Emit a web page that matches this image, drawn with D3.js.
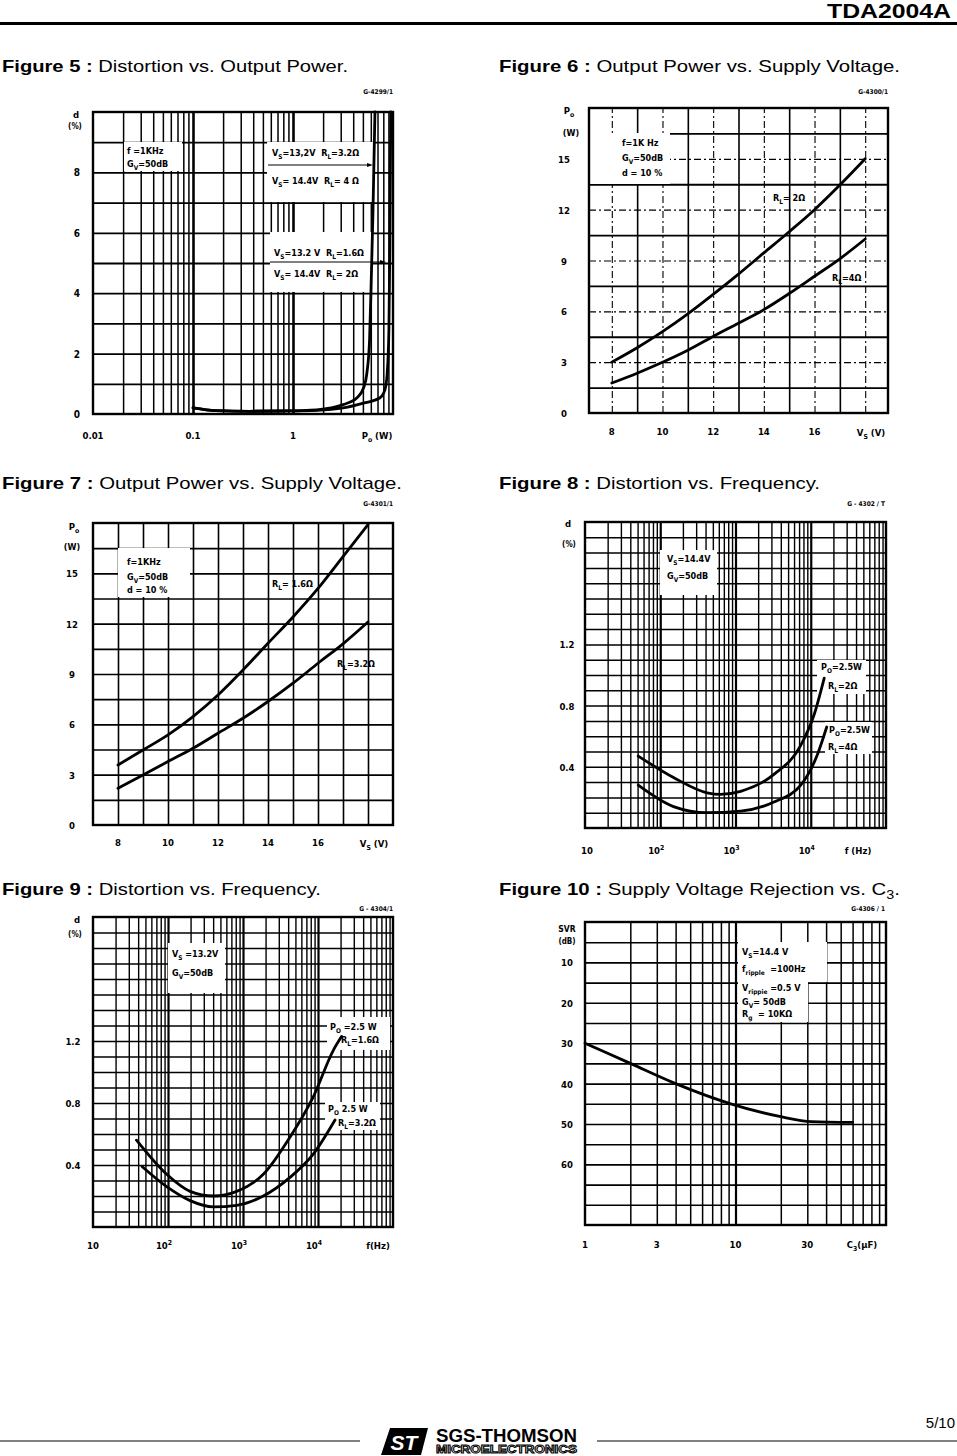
<!DOCTYPE html>
<html><head><meta charset="utf-8">
<script src="https://cdn.jsdelivr.net/npm/d3@7"></script>
<style>body{margin:0;background:#fff}svg{display:block}</style>
</head><body>
<svg id="page" width="957" height="1456"></svg>
<script>
// ================= DATA =================
// Figure 5 : Distortion vs. Output Power (Po in W, d in %)
const f5YTicks = [0, 2, 4, 6, 8];
const f5XTicks = [0.01, 0.1, 1];
const f5XLabels = ["0.01", "0.1", "1"];
const f5Curve32 = [[0.1,0.2],[0.17,0.11],[0.37,0.09],[0.79,0.1],[1.73,0.14],[3.17,0.31],[4.34,0.53],[5.07,0.86],[5.48,1.35],[5.83,2.46],[6.06,4.44],[6.3,6.64],[6.6,10]];
const f5Curve16 = [[0.1,0.2],[0.17,0.11],[0.37,0.09],[0.79,0.1],[1.73,0.12],[3.17,0.2],[5.07,0.36],[7.36,0.53],[8.3,0.8],[8.75,1.35],[9.1,2.8],[9.3,5.54],[9.5,10]];

// Figure 6 : Output Power vs. Supply Voltage (Vs in V, Po in W)
const f6YTicks = [0, 3, 6, 9, 12, 15];
const f6XTicks = [8, 10, 12, 14, 16];
const f6RL2 = [[8,3.0],[9,3.85],[10,4.8],[11,5.85],[12,7.0],[13,8.2],[14,9.45],[15,10.7],[16,12.0],[17,13.45],[18,15.0]];
const f6RL4 = [[8,1.77],[9,2.35],[10,2.99],[11,3.7],[12,4.52],[13,5.3],[14,6.1],[15,7.05],[16,8.07],[17,9.1],[18,10.27]];

// Figure 7 : Output Power vs. Supply Voltage
const f7YTicks = [0, 3, 6, 9, 12, 15];
const f7XTicks = [8, 10, 12, 14, 16];
const f7RL16 = [[8,3.58],[9,4.47],[10,5.37],[11,6.46],[12,7.75],[13,9.24],[14,10.83],[15,12.4],[16,14.1],[17,16.0],[18,17.9]];
const f7RL32 = [[8,2.19],[9,2.98],[10,3.78],[11,4.57],[12,5.47],[13,6.36],[14,7.36],[15,8.45],[16,9.64],[17,10.8],[18,12.1]];

// Figure 8 : Distortion vs. Frequency (f in Hz, d in %)
const f8YTicks = [0.4, 0.8, 1.2];
const f8XTicks = [10, 100, 1000, 10000];
const f8RL2 = [[51,0.47],[150,0.33],[420,0.23],[630,0.22],[1170,0.24],[3240,0.35],[7360,0.54],[11070,0.74],[15100,0.98]];
const f8RL4 = [[51,0.28],[150,0.14],[420,0.10],[1170,0.11],[3240,0.17],[7360,0.28],[12270,0.48],[16300,0.66]];

// Figure 9 : Distortion vs. Frequency
const f9YTicks = [0.4, 0.8, 1.2];
const f9XTicks = [10, 100, 1000, 10000];
const f9RL16 = [[38,0.56],[96,0.34],[197,0.23],[402,0.20],[824,0.23],[1866,0.34],[4234,0.58],[8650,0.84],[16000,1.14],[20700,1.23]];
const f9RL32 = [[45,0.39],[96,0.26],[197,0.17],[402,0.13],[824,0.14],[1866,0.20],[4234,0.32],[8650,0.47],[16860,0.69]];

// Figure 10 : Supply Voltage Rejection vs. C3 (C3 in uF, SVR in dB)
const f10YTicks = [10, 20, 30, 40, 50, 60];
const f10XTicks = [1, 3, 10, 30];
const f10SVR = [[1,30],[2,35],[4,40],[9.3,45],[20,48.2],[32,49.4],[60,49.6]];

// ================= HELPERS =================
const svg = d3.select("#page");
svg.append("rect").attr("width", 957).attr("height", 1456).attr("fill", "#fff");
const CF = "'DejaVu Sans Condensed','DejaVu Sans',sans-serif";
const TF = "'Liberation Sans', Arial, Helvetica, sans-serif";

function rich(g, x, y, parts, o = {}) {
  const size = o.size || 9;
  const t = g.append("text").attr("x", x).attr("y", y)
    .attr("font-family", o.family || CF).attr("font-weight", o.weight || "bold")
    .attr("font-size", size).attr("text-anchor", o.anchor || "start")
    .attr("font-stretch", "condensed")
    .style("white-space", "pre").attr("fill", o.fill || "#000");
  let shift = 0;
  parts.forEach(p => {
    const [s, k, w] = Array.isArray(p) ? p : [p, "", null];
    const target = k === "sub" ? size * 0.32 : k === "sup" ? -size * 0.42 : 0;
    const ts = t.append("tspan").text(s).attr("dy", target - shift);
    if (k === "sub" || k === "sup") ts.attr("font-size", size * 0.72);
    if (w) ts.attr("font-weight", w);
    shift = target;
  });
  if (o.len) t.attr("textLength", o.len).attr("lengthAdjust", "spacingAndGlyphs");
  return t;
}

function logGrid(a, b) {
  const out = [];
  const e0 = Math.round(Math.log10(a)), e1 = Math.round(Math.log10(b));
  for (let e = e0; e < e1; e++)
    for (let k = 1; k <= 9; k++) out.push(+(k * Math.pow(10, e)).toPrecision(3));
  return out.filter(v => v > a * 1.0001);
}
const isDecade = v => Math.abs(Math.log10(v) - Math.round(Math.log10(v))) < 1e-6;

function grid(g, r, x, y, vx, hy, vStyle, hStyle) {
  const ga = g.append("g").attr("transform", `translate(0,${r.b})`)
    .call(d3.axisBottom(x).tickValues(vx).tickSize(-(r.b - r.t)).tickFormat(""));
  ga.select(".domain").remove();
  ga.selectAll(".tick line").each(function (v) {
    const s = vStyle(v);
    d3.select(this).attr("stroke", "#000").attr("stroke-width", s.w).attr("stroke-dasharray", s.dash || null);
  });
  const gb = g.append("g").attr("transform", `translate(${r.l},0)`)
    .call(d3.axisLeft(y).tickValues(hy).tickSize(-(r.r - r.l)).tickFormat(""));
  gb.select(".domain").remove();
  gb.selectAll(".tick line").each(function (v) {
    const s = hStyle(v);
    d3.select(this).attr("stroke", "#000").attr("stroke-width", s.w).attr("stroke-dasharray", s.dash || null);
  });
}
function frame(g, r) {
  g.append("rect").attr("x", r.l).attr("y", r.t).attr("width", r.r - r.l).attr("height", r.b - r.t)
    .attr("fill", "none").attr("stroke", "#000").attr("stroke-width", 2.4);
}
function box(g, x0, y0, x1, y1) {
  g.append("rect").attr("x", x0).attr("y", y0).attr("width", x1 - x0).attr("height", y1 - y0).attr("fill", "#fff");
}
function curve(g, x, y, data, w) {
  g.append("path").datum(data)
    .attr("d", d3.line().x(d => x(d[0])).y(d => y(d[1])).curve(d3.curveMonotoneX))
    .attr("fill", "none").attr("stroke", "#000").attr("stroke-width", w || 2.8)
    .attr("stroke-linecap", "round");
}
function arrowLine(g, x0, x1, yy) {
  g.append("line").attr("x1", x0).attr("x2", x1 - 3).attr("y1", yy).attr("y2", yy).attr("stroke", "#000").attr("stroke-width", 1);
  g.append("path").attr("d", `M${x1},${yy} L${x1 - 6},${yy - 2} L${x1 - 6},${yy + 2} Z`).attr("fill", "#000");
}
function title(x, y, boldPart, parts, len) {
  const t = svg.append("text").attr("x", x).attr("y", y).attr("font-family", TF).attr("font-size", 17)
    .style("white-space", "pre");
  t.append("tspan").attr("font-weight", "bold").text(boldPart);
  let shift = 0;
  parts.forEach(p => {
    const [s, k] = Array.isArray(p) ? p : [p, ""];
    const target = k === "sub" ? 4 : 0;
    const ts = t.append("tspan").text(s).attr("dy", target - shift);
    if (k === "sub") ts.attr("font-size", 12);
    shift = target;
  });
  t.attr("textLength", len).attr("lengthAdjust", "spacingAndGlyphs");
}
const sub = s => [s, "sub"];
const sup = s => [s, "sup"];

// ================= HEADER / FOOTER =================
svg.append("text").attr("x", 951).attr("y", 18).attr("text-anchor", "end").attr("font-family", TF)
  .attr("font-weight", "bold").attr("font-size", 20).attr("textLength", 124).attr("lengthAdjust", "spacingAndGlyphs").text("TDA2004A");
svg.append("rect").attr("x", 0).attr("y", 22).attr("width", 957).attr("height", 3).attr("fill", "#000");

svg.append("text").attr("x", 955).attr("y", 1428).attr("text-anchor", "end").attr("font-family", TF)
  .attr("font-size", 15).text("5/10");
svg.append("line").attr("x1", 0).attr("x2", 360).attr("y1", 1441).attr("y2", 1441).attr("stroke", "#000").attr("stroke-width", 1);
svg.append("line").attr("x1", 597).attr("x2", 957).attr("y1", 1441).attr("y2", 1441).attr("stroke", "#000").attr("stroke-width", 1);
svg.append("path").attr("d", "M390,1428 L428,1428 L421,1455 L381,1455 Z").attr("fill", "#000");
svg.append("text").attr("x", 404).attr("y", 1450).attr("text-anchor", "middle").attr("font-family", TF)
  .attr("font-weight", "bold").attr("font-style", "italic").attr("font-size", 21).attr("fill", "#fff").text("ST");
svg.append("text").attr("x", 436).attr("y", 1442).attr("font-family", TF).attr("font-weight", "bold")
  .attr("font-size", 18).attr("textLength", 141).attr("lengthAdjust", "spacingAndGlyphs").text("SGS-THOMSON");
svg.append("text").attr("x", 436).attr("y", 1453).attr("font-family", TF).attr("font-weight", "bold")
  .attr("font-size", 10).attr("fill", "#fff").attr("stroke", "#000").attr("stroke-width", 0.9)
  .attr("textLength", 141).attr("lengthAdjust", "spacingAndGlyphs").text("MICROELECTRONICS");

// ================= TITLES =================
title(2, 72, "Figure 5 :", [" Distortion vs. Output Power."], 346);
title(499, 72, "Figure 6 :", [" Output Power vs. Supply Voltage."], 401);
title(2, 489, "Figure 7 :", [" Output Power vs. Supply Voltage."], 400);
title(499, 489, "Figure 8 :", [" Distortion vs. Frequency."], 321);
title(2, 895, "Figure 9 :", [" Distortion vs. Frequency."], 319);
title(499, 895, "Figure 10 :", [" Supply Voltage Rejection vs. C", sub("3"), "."], 401);

// ================= FIGURE 5 =================
(function () {
  const r = { l: 93, t: 112, r: 393, b: 414 };
  const g = svg.append("g");
  const x = d3.scaleLog().domain([0.01, 10]).range([r.l, r.r]);
  const y = d3.scaleLinear().domain([0, 10]).range([r.b, r.t]);
  grid(g, r, x, y, logGrid(0.01, 10), d3.range(1, 10),
    v => ({ w: isDecade(v) ? 2.6 : 1.5 }), v => ({ w: 1.8 }));
  box(g, 124, 142, 182, 171);
  rich(g, 127, 154, ["f =1KHz"]);
  rich(g, 127, 167, ["G", sub("V"), "=50dB"]);
  box(g, 267, 142, 375, 202);
  rich(g, 272, 156, ["V", sub("S"), "=13,2V  R", sub("L"), "=3.2Ω"]);
  arrowLine(g, 268, 373, 165);
  rich(g, 272, 184, ["V", sub("S"), "= 14.4V  R", sub("L"), "= 4 Ω"]);
  box(g, 270, 232, 372, 292);
  rich(g, 274, 256, ["V", sub("S"), "=13.2 V  R", sub("L"), "=1.6Ω"]);
  arrowLine(g, 270, 386, 262);
  rich(g, 274, 277, ["V", sub("S"), "= 14.4V  R", sub("L"), "= 2Ω"]);
  curve(g, x, y, f5Curve16);
  curve(g, x, y, f5Curve32);
  frame(g, r);
  f5YTicks.forEach(v => rich(g, 77, y(v) + 4, [String(v)], { anchor: "middle", size: 10 }));
  f5XTicks.forEach((v, i) => rich(g, x(v), 439, [f5XLabels[i]], { anchor: "middle", size: 9.5 }));
  rich(g, 377, 439, ["P", sub("o"), " (W)"], { anchor: "middle", size: 9.5 });
  rich(g, 76, 118, ["d"], { anchor: "middle", size: 9.5 });
  rich(g, 75, 129, ["(%)"], { anchor: "middle", size: 8 });
  rich(g, 393, 94, ["G-4299/1"], { anchor: "end", size: 6.5 });
})();

// ================= FIGURE 6 =================
(function () {
  const r = { l: 589, t: 108, r: 888, b: 413 };
  const g = svg.append("g");
  const x = d3.scaleLinear().domain([7.1, 18.9]).range([r.l, r.r]);
  const y = d3.scaleLinear().domain([0, 18]).range([r.b, r.t]);
  grid(g, r, x, y, d3.range(8, 19), d3.range(1, 12).map(i => i * 1.5),
    v => (v % 2 === 0 ? { w: 1.1, dash: "7,3,2,3" } : { w: 1.6 }),
    v => (Math.abs(v % 3) < 1e-6 ? { w: 1.1, dash: "7,3,2,3" } : { w: 1.8 }));
  box(g, 590, 133, 670, 184);
  rich(g, 622, 146, ["f=1K Hz"]);
  rich(g, 622, 161, ["G", sub("V"), "=50dB"]);
  rich(g, 622, 176, ["d = 10 %"]);
  curve(g, x, y, f6RL2);
  curve(g, x, y, f6RL4);
  frame(g, r);
  rich(g, 773, 201, ["R", sub("L"), "= 2Ω"]);
  rich(g, 832, 281, ["R", sub("L"), "=4Ω"]);
  f6YTicks.forEach(v => rich(g, 564, y(v) + 4, [String(v)], { anchor: "middle", size: 9.5 }));
  f6XTicks.forEach(v => rich(g, x(v), 435, [String(v)], { anchor: "middle", size: 9.5 }));
  rich(g, 871, 436, ["V", sub("S"), " (V)"], { anchor: "middle", size: 9.5 });
  rich(g, 569, 114, ["P", sub("o")], { anchor: "middle", size: 9.5 });
  rich(g, 571, 136, ["(W)"], { anchor: "middle", size: 9 });
  rich(g, 888, 94, ["G-4300/1"], { anchor: "end", size: 6.5 });
})();

// ================= FIGURE 7 =================
(function () {
  const r = { l: 93, t: 523, r: 393, b: 825 };
  const g = svg.append("g");
  const x = d3.scaleLinear().domain([7, 19]).range([r.l, r.r]);
  const y = d3.scaleLinear().domain([0, 18]).range([r.b, r.t]);
  grid(g, r, x, y, d3.range(8, 19), d3.range(1, 12).map(i => i * 1.5),
    v => ({ w: 1.6 }), v => ({ w: 1.6 }));
  box(g, 118, 548, 190, 597);
  rich(g, 127, 565, ["f=1KHz"]);
  rich(g, 127, 580, ["G", sub("V"), "=50dB"]);
  rich(g, 127, 593, ["d = 10 %"]);
  curve(g, x, y, f7RL16);
  curve(g, x, y, f7RL32);
  frame(g, r);
  rich(g, 272, 587, ["R", sub("L"), "= 1.6Ω"]);
  rich(g, 337, 667, ["R", sub("L"), "=3.2Ω"]);
  f7YTicks.forEach(v => rich(g, 72, y(v) + 4, [String(v)], { anchor: "middle", size: 9.5 }));
  f7XTicks.forEach(v => rich(g, x(v), 846, [String(v)], { anchor: "middle", size: 9.5 }));
  rich(g, 374, 847, ["V", sub("S"), " (V)"], { anchor: "middle", size: 9.5 });
  rich(g, 74, 530, ["P", sub("o")], { anchor: "middle", size: 9.5 });
  rich(g, 72, 550, ["(W)"], { anchor: "middle", size: 9 });
  rich(g, 393, 506, ["G-4301/1"], { anchor: "end", size: 6.5 });
})();

// ================= FIGURE 8 =================
(function () {
  const r = { l: 585, t: 522, r: 886, b: 828 };
  const g = svg.append("g");
  const x = d3.scaleLog().domain([10, 100000]).range([r.l, r.r]);
  const y = d3.scaleLinear().domain([0, 2]).range([r.b, r.t]);
  grid(g, r, x, y, logGrid(10, 100000), d3.range(1, 20).map(i => i / 10),
    v => ({ w: isDecade(v) ? 2.2 : 1.4 }), v => ({ w: 1.5 }));
  box(g, 660, 550, 717, 595);
  rich(g, 667, 562, ["V", sub("S"), "=14.4V"]);
  rich(g, 667, 579, ["G", sub("V"), "=50dB"]);
  box(g, 817, 660, 866, 694);
  rich(g, 821, 670, ["P", sub("O"), "=2.5W"]);
  rich(g, 828, 689, ["R", sub("L"), "=2Ω"]);
  box(g, 825, 722, 872, 754);
  rich(g, 829, 733, ["P", sub("O"), "=2.5W"]);
  rich(g, 828, 750, ["R", sub("L"), "=4Ω"]);
  curve(g, x, y, f8RL2);
  curve(g, x, y, f8RL4);
  frame(g, r);
  f8YTicks.forEach(v => rich(g, 567, y(v) + 4, [v.toFixed(1)], { anchor: "middle", size: 9.5 }));
  rich(g, x(10) + 2, 854, ["10"], { anchor: "middle", size: 9.5 });
  [100, 1000, 10000].forEach((v, i) => rich(g, x(v) - 4, 854, ["10", sup(String(i + 2))], { anchor: "middle", size: 9.5 }));
  rich(g, 858, 854, ["f (Hz)"], { anchor: "middle", size: 9.5 });
  rich(g, 568, 527, ["d"], { anchor: "middle", size: 9.5 });
  rich(g, 569, 547, ["(%)"], { anchor: "middle", size: 8 });
  rich(g, 885, 506, ["G - 4302 / T"], { anchor: "end", size: 6.5 });
})();

// ================= FIGURE 9 =================
(function () {
  const r = { l: 93, t: 917, r: 393, b: 1227 };
  const g = svg.append("g");
  const x = d3.scaleLog().domain([10, 100000]).range([r.l, r.r]);
  const y = d3.scaleLinear().domain([0, 2]).range([r.b, r.t]);
  grid(g, r, x, y, logGrid(10, 100000), d3.range(1, 20).map(i => i / 10),
    v => ({ w: isDecade(v) ? 2.2 : 1.4 }), v => ({ w: 1.5 }));
  box(g, 168, 943, 225, 993);
  rich(g, 172, 957, ["V", sub("S"), " =13.2V"]);
  rich(g, 172, 976, ["G", sub("V"), "=50dB"]);
  box(g, 327, 1017, 390, 1050);
  rich(g, 330, 1030, ["P", sub("O"), " =2.5 W"]);
  rich(g, 341, 1043, ["R", sub("L"), "=1.6Ω"]);
  box(g, 325, 1102, 380, 1130);
  rich(g, 328, 1112, ["P", sub("O"), " 2.5 W"]);
  rich(g, 338, 1126, ["R", sub("L"), "=3.2Ω"]);
  curve(g, x, y, f9RL16);
  curve(g, x, y, f9RL32);
  frame(g, r);
  f9YTicks.forEach(v => rich(g, 73, y(v) + 4, [v.toFixed(1)], { anchor: "middle", size: 9.5 }));
  rich(g, x(10), 1249, ["10"], { anchor: "middle", size: 9.5 });
  [100, 1000, 10000].forEach((v, i) => rich(g, x(v) - 4, 1249, ["10", sup(String(i + 2))], { anchor: "middle", size: 9.5 }));
  rich(g, 378, 1249, ["f(Hz)"], { anchor: "middle", size: 9.5 });
  rich(g, 77, 923, ["d"], { anchor: "middle", size: 9.5 });
  rich(g, 75, 937, ["(%)"], { anchor: "middle", size: 8 });
  rich(g, 393, 911, ["G - 4304/1"], { anchor: "end", size: 6.5 });
})();

// ================= FIGURE 10 =================
(function () {
  const r = { l: 585, t: 922, r: 886, b: 1225 };
  const g = svg.append("g");
  const x = d3.scaleLog().domain([1, 100]).range([r.l, r.r]);
  const y = d3.scaleLinear().domain([0, 75]).range([r.t, r.b]);
  grid(g, r, x, y, logGrid(1, 100), d3.range(5, 75, 5),
    v => ({ w: isDecade(v) ? 2.2 : 1.5 }), v => ({ w: 1.6 }));
  box(g, 738, 942, 827, 982);
  box(g, 738, 980, 808, 1022);
  rich(g, 742, 955, ["V", sub("S"), "=14.4 V"]);
  rich(g, 742, 972, ["f", sub("ripple"), "  =100Hz"]);
  rich(g, 742, 991, ["V", sub("rippie"), " =0.5 V"]);
  rich(g, 742, 1005, ["G", sub("V"), "= 50dB"]);
  rich(g, 742, 1017, ["R", sub("g"), "  = 10KΩ"]);
  curve(g, x, y, f10SVR);
  frame(g, r);
  f10YTicks.forEach(v => rich(g, 567, y(v) + 4, [String(v)], { anchor: "middle", size: 9.5 }));
  f10XTicks.forEach(v => rich(g, x(v), 1248, [String(v)], { anchor: "middle", size: 9.5 }));
  rich(g, 862, 1248, ["C", sub("3"), "(μF)"], { anchor: "middle", size: 9.5 });
  rich(g, 567, 932, ["SVR"], { anchor: "middle", size: 8.5 });
  rich(g, 567, 944, ["(dB)"], { anchor: "middle", size: 8 });
  rich(g, 885, 911, ["G-4306 / 1"], { anchor: "end", size: 6.5 });
})();
</script>
</body></html>
